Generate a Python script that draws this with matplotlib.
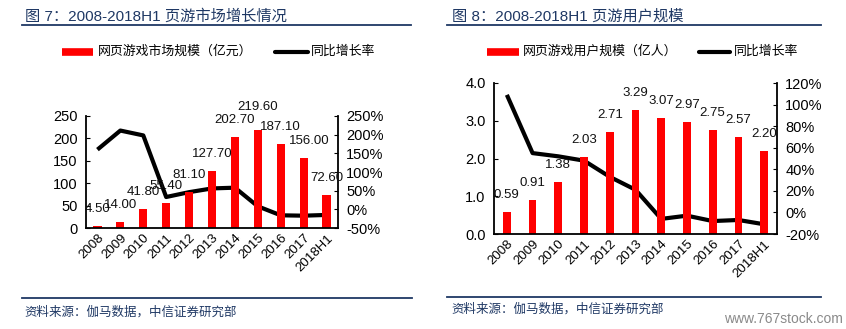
import matplotlib
matplotlib.use("Agg")
import matplotlib.pyplot as plt
from matplotlib.lines import Line2D
from matplotlib.ticker import FuncFormatter

plt.rcParams['font.family'] = ['Liberation Sans', 'Noto Sans CJK SC', 'DejaVu Sans']

# ---- data ----
years = ["2008", "2009", "2010", "2011", "2012", "2013", "2014", "2015", "2016", "2017", "2018H1"]
market_size = [4.50, 14.00, 41.80, 55.40, 81.10, 127.70, 202.70, 219.60, 187.10, 156.00, 72.60]
market_growth = [160, 211, 198, 33, 46, 56, 58, 8, -16, -17, -15]
users = [0.59, 0.91, 1.38, 2.03, 2.71, 3.29, 3.07, 2.97, 2.75, 2.57, 2.20]
users_growth = [109, 55, 52, 48, 33, 21, -6, -3, -8, -7, -11]

title1 = "图 7：2008-2018H1 页游市场增长情况"
title2 = "图 8：2008-2018H1 页游用户规模"
legend1_bar = "网页游戏市场规模（亿元）"
legend2_bar = "网页游戏用户规模（亿人）"
legend_line = "同比增长率"
source = "资料来源：伽马数据，中信证券研究部"
watermark = "www.767stock.com"

W, H = 846, 329
fig = plt.figure(figsize=(W / 100, H / 100), dpi=100)

NAVY = "#1F3864"
RED = "#FF0000"


def fx(px):
    return px / W


def fy(py):
    return 1 - py / H


def hline(x0, x1, y, color=NAVY, lw=1.3):
    fig.add_artist(Line2D([fx(x0), fx(x1)], [fy(y), fy(y)], color=color, lw=lw,
                          transform=fig.transFigure))


def panel(ax_rect, vals, growth, left_lim, left_ticks, left_fmt, right_lim, right_ticks,
          bar_width, label_offsets):
    l, t, r, b = ax_rect
    ax = fig.add_axes([fx(l), fy(b), fx(r) - fx(l), fy(t) - fy(b)])
    x = list(range(len(years)))
    ax.bar(x, vals, width=bar_width, color=RED, zorder=2)
    ax.set_xlim(-0.5, len(years) - 0.5)
    ax.set_ylim(*left_lim)
    ax.set_yticks(left_ticks)
    ax.yaxis.set_major_formatter(FuncFormatter(left_fmt))
    ax.set_xticks(x)
    ax.set_xticklabels(years, rotation=45, ha="right", rotation_mode="anchor", fontsize=9.5)
    ax.tick_params(axis="x", length=0, pad=3)
    ax.tick_params(axis="y", direction="in", length=3, labelsize=10.5, pad=6)
    for s in ["top", "right"]:
        ax.spines[s].set_visible(False)
    for s in ["left", "bottom"]:
        ax.spines[s].set_linewidth(1.3)
    for i, v in enumerate(vals):
        ax.annotate(f"{v:.2f}", (i, v), xytext=(label_offsets[i][0], label_offsets[i][1]),
                    textcoords="offset points", ha="center", va="bottom", fontsize=9.5,
                    color="#111111", zorder=5)
    ax2 = ax.twinx()
    ax2.plot(x, growth, color="black", lw=3, solid_capstyle="butt", zorder=3)
    ax2.set_ylim(*right_lim)
    ax2.set_yticks(right_ticks)
    ax2.yaxis.set_major_formatter(FuncFormatter(lambda v, p: f"{v:.0f}%"))
    ax2.tick_params(axis="y", direction="in", length=3, labelsize=10.5, pad=6)
    for s in ["top", "left", "bottom"]:
        ax2.spines[s].set_visible(False)
    ax2.spines["right"].set_linewidth(1.3)
    ax.set_zorder(ax2.get_zorder() + 1)
    ax.patch.set_visible(False)
    return ax, ax2


# ---- left panel ----
fig.text(fx(25), fy(16), title1, fontsize=11, color=NAVY, va="center", ha="left")
hline(22, 411, 25)
fig.add_artist(Line2D([fx(62), fx(93)], [fy(52), fy(52)], color=RED, lw=5.5,
                      solid_capstyle="butt", transform=fig.transFigure))
fig.text(fx(98), fy(52), legend1_bar, fontsize=9.3, va="center", ha="left", color="black")
fig.add_artist(Line2D([fx(275), fx(308)], [fy(52), fy(52)], color="black", lw=3,
                      solid_capstyle="round", transform=fig.transFigure))
fig.text(fx(311), fy(52), legend_line, fontsize=9.3, va="center", ha="left", color="black")

offs1 = [(0, 8)] * len(years)
offs1[7] = (0, 12)
offs1[9] = (4, 8)
panel((86, 116, 338, 228), market_size, market_growth, (0, 250), [0, 50, 100, 150, 200, 250],
      lambda v, p: f"{v:.0f}", (-50, 250), [-50, 0, 50, 100, 150, 200, 250], 0.36, offs1)

hline(22, 412, 298)
fig.text(fx(24), fy(312), source, fontsize=9, color=NAVY, va="center", ha="left")

# ---- right panel ----
fig.text(fx(452), fy(16), title2, fontsize=11, color=NAVY, va="center", ha="left")
hline(447, 821, 25)
fig.add_artist(Line2D([fx(487), fx(519)], [fy(52), fy(52)], color=RED, lw=5.5,
                      solid_capstyle="butt", transform=fig.transFigure))
fig.text(fx(523), fy(52), legend2_bar, fontsize=9.3, va="center", ha="left", color="black")
fig.add_artist(Line2D([fx(699), fx(730)], [fy(52), fy(52)], color="black", lw=3,
                      solid_capstyle="round", transform=fig.transFigure))
fig.text(fx(734), fy(52), legend_line, fontsize=9.3, va="center", ha="left", color="black")

offs2 = [(0, 8)] * len(years)
panel((494, 83, 777, 234), users, users_growth, (0, 4), [0, 1, 2, 3, 4],
      lambda v, p: f"{v:.1f}", (-20, 120), [-20, 0, 20, 40, 60, 80, 100, 120], 0.3, offs2)

hline(447, 821, 297)
fig.text(fx(451), fy(309), source, fontsize=9, color=NAVY, va="center", ha="left")
fig.text(fx(843), fy(319), watermark, fontsize=10, color="#8A8A8A", va="center", ha="right",
         family=["Liberation Sans Narrow", "Liberation Sans", "DejaVu Sans"])

fig.savefig("out.png", dpi=100)
